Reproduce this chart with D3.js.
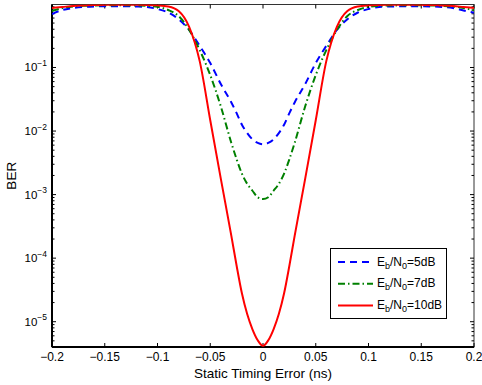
<!DOCTYPE html>
<html><head><meta charset="utf-8">
<script src="https://cdn.jsdelivr.net/npm/d3@7"></script>
<style>body{margin:0;background:#fff}svg{display:block;font-family:"Liberation Sans",Arial,Helvetica,sans-serif}</style>
</head><body><svg id="c" width="482" height="385"></svg>
<script>
// Static timing error (ns)
const timing = [-0.20,-0.19,-0.18,-0.17,-0.16,-0.15,-0.14,-0.13,-0.12,-0.11,-0.10,-0.09,-0.08,-0.07,-0.06,-0.05,-0.04,-0.03,-0.025,-0.02,-0.015,-0.01,-0.005,0,
  0.005,0.01,0.015,0.02,0.025,0.03,0.04,0.05,0.06,0.07,0.08,0.09,0.10,0.11,0.12,0.13,0.14,0.15,0.16,0.17,0.18,0.19,0.20];
// BER, Eb/N0 = 5 dB
const ber5 = [0.695,0.804,0.863,0.895,0.912,0.918,0.920,0.918,0.912,0.895,0.832,0.733,0.575,0.389,0.219,0.1175,0.0550,0.0282,0.0191,0.0126,0.0093,0.0074,0.0065,0.0062,
  0.0065,0.0074,0.0093,0.0126,0.0191,0.0282,0.0550,0.1175,0.219,0.389,0.575,0.733,0.832,0.895,0.912,0.918,0.920,0.918,0.912,0.895,0.863,0.790,0.728];
// BER, Eb/N0 = 7 dB
const ber7 = [0.776,0.863,0.912,0.933,0.944,0.951,0.953,0.951,0.944,0.933,0.902,0.804,0.646,0.389,0.188,0.0759,0.0245,0.0065,0.0036,0.00214,0.00148,0.00115,0.00091,0.00085,
  0.00091,0.00115,0.00148,0.00214,0.0036,0.0065,0.0245,0.0759,0.188,0.389,0.646,0.804,0.902,0.933,0.944,0.951,0.953,0.951,0.944,0.933,0.912,0.863,0.794];
// BER, Eb/N0 = 10 dB
const ber10 = [0.863,0.895,0.929,0.946,0.962,0.968,0.973,0.973,0.971,0.964,0.951,0.912,0.776,0.437,0.126,0.0148,0.00178,0.000224,0.000076,0.000028,0.0000132,0.0000076,0.0000051,0.00000417,
  0.0000051,0.0000076,0.0000132,0.000028,0.000076,0.000224,0.00178,0.0148,0.126,0.437,0.776,0.912,0.951,0.964,0.971,0.973,0.973,0.968,0.962,0.946,0.929,0.895,0.863];

const xTicks = [-0.2,-0.15,-0.1,-0.05,0,0.05,0.1,0.15,0.2];
const xTickLabels = ["\u22120.2","\u22120.15","\u22120.1","\u22120.05","0","0.05","0.1","0.15","0.2"];
const yTickExps = [-5,-4,-3,-2,-1];
const seriesNames = ["5dB","7dB","10dB"];
const seriesColors = ["#0000ff","#008000","#ff0000"];
const seriesDash = ["7,5","7,3,1.5,3",null];

const W=482,H=385, m={l:52,r:8,t:4.5,b:38};
const svg=d3.select("#c");
const x=d3.scaleLinear().domain([-0.2,0.2]).range([m.l,W-m.r]);
const y=d3.scaleLog().domain([4e-6,0.98]).range([H-m.b,m.t]);

svg.append("defs").append("clipPath").attr("id","clip").append("rect")
  .attr("x",m.l).attr("y",m.t).attr("width",W-m.l-m.r).attr("height",H-m.t-m.b);

// frame
svg.append("rect").attr("x",m.l).attr("y",m.t).attr("width",W-m.l-m.r).attr("height",H-m.t-m.b)
  .attr("fill","none").attr("stroke","#333").attr("stroke-width",1);

// x ticks (bottom and top, inward)
const g=svg.append("g");
xTicks.forEach((t,i)=>{
  const px=x(t);
  g.append("line").attr("x1",px).attr("x2",px).attr("y1",H-m.b).attr("y2",H-m.b-4).attr("stroke","#000");
  g.append("line").attr("x1",px).attr("x2",px).attr("y1",m.t).attr("y2",m.t+4).attr("stroke","#000");
  g.append("text").attr("x",px).attr("y",H-m.b+14).attr("text-anchor","middle").attr("font-size",12).attr("fill","#000").text(xTickLabels[i]);
});
// y minor ticks
const [y0,y1]=y.domain();
for(let e=-6;e<=0;e++){
  for(let k=1;k<=9;k++){
    const v=k*Math.pow(10,e);
    if(v<y0||v>y1) continue;
    const py=y(v), len=(k===1)?4:2.5;
    g.append("line").attr("x1",m.l).attr("x2",m.l+len).attr("y1",py).attr("y2",py).attr("stroke","#000");
    g.append("line").attr("x1",W-m.r).attr("x2",W-m.r-len).attr("y1",py).attr("y2",py).attr("stroke","#000");
  }
}
// y labels
yTickExps.forEach(e=>{
  const py=y(Math.pow(10,e));
  const t=g.append("text").attr("x",m.l-5).attr("y",py+4).attr("text-anchor","end").attr("font-size",11.5).attr("fill","#000");
  t.append("tspan").text("10");
  t.append("tspan").attr("dy",-5.5).attr("font-size",8.5).text("\u2212"+Math.abs(e));
});

// axis lines (left & bottom heavier)
svg.append("line").attr("x1",m.l).attr("x2",m.l).attr("y1",m.t).attr("y2",H-m.b).attr("stroke","#000").attr("stroke-width",2);
svg.append("line").attr("x1",m.l).attr("x2",W-m.r).attr("y1",H-m.b).attr("y2",H-m.b).attr("stroke","#000").attr("stroke-width",2);

// curves
const line=d3.line().x(d=>x(d[0])).y(d=>y(d[1])).curve(d3.curveMonotoneX);
const series=[ber5,ber7,ber10];
const plot=svg.append("g").attr("clip-path","url(#clip)");
series.forEach((s,i)=>{
  plot.append("path").datum(timing.map((t,j)=>[t,s[j]])).attr("d",line)
    .attr("fill","none").attr("stroke",seriesColors[i]).attr("stroke-width",2)
    .attr("stroke-dasharray",seriesDash[i]);
});

// axis titles
svg.append("text").attr("x",(m.l+W-m.r)/2).attr("y",377.5).attr("text-anchor","middle").attr("font-size",13.5).text("Static Timing Error (ns)");
svg.append("text").attr("transform","translate(16,"+((m.t+H-m.b)/2)+") rotate(-90)").attr("text-anchor","middle").attr("font-size",13.5).text("BER");

// legend
const lg=svg.append("g");
lg.append("rect").attr("x",330.5).attr("y",248.5).attr("width",116).attr("height",70).attr("fill","#fff").attr("stroke","#000").attr("stroke-width",1);
seriesNames.forEach((n,i)=>{
  const ly=262+i*21.7;
  lg.append("line").attr("x1",338).attr("x2",373).attr("y1",ly).attr("y2",ly).attr("stroke",seriesColors[i]).attr("stroke-width",2).attr("stroke-dasharray",seriesDash[i]);
  const t=lg.append("text").attr("x",377).attr("y",ly+3.5).attr("font-size",12).attr("fill","#000");
  t.append("tspan").text("E");
  t.append("tspan").attr("dy",3).attr("font-size",9).text("b");
  t.append("tspan").attr("dy",-3).text("/N");
  t.append("tspan").attr("dy",3).attr("font-size",9).text("0");
  t.append("tspan").attr("dy",-3).text("="+n);
});
</script></body></html>
